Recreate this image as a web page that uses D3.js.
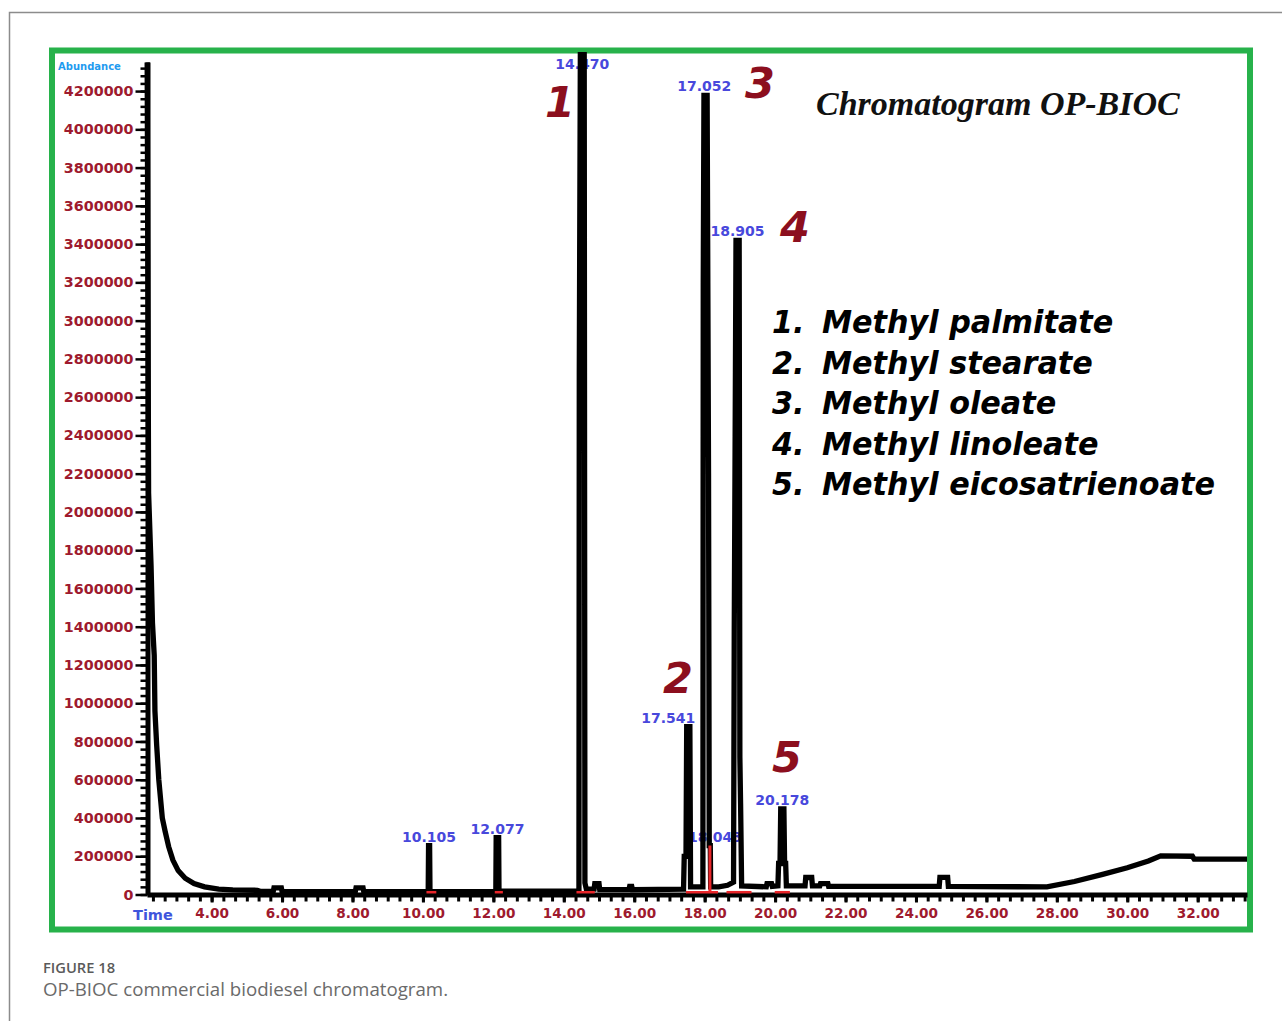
<!DOCTYPE html>
<html>
<head>
<meta charset="utf-8">
<script src="https://cdn.jsdelivr.net/npm/d3@7"></script>
<style>
  html, body { margin: 0; padding: 0; background: #ffffff; }
  svg { display: block; }
</style>
</head>
<body>
<svg id="chart" width="1282" height="1021"></svg>
<script>
// ---------------- DATA ----------------
const traceTime = [
  2.17, 2.21, 2.28, 2.32, 2.37, 2.39, 2.44, 2.50, 2.60, 2.68, 2.78, 2.90, 3.05, 3.25, 3.50, 3.80, 4.20, 4.60, 5.30,
  5.40, 5.75, 5.77, 5.98, 6.00, 8.08, 8.10, 8.30, 8.32,
  10.15, 10.16, 10.19, 10.20,
  12.07, 12.08, 12.15, 12.16,
  14.43, 14.44, 14.47, 14.58, 14.60, 14.64,
  14.86, 14.88, 15.00, 15.02, 15.85, 15.87, 15.93, 15.95,
  17.40, 17.42, 17.47, 17.49, 17.58, 17.60,
  17.95, 17.96, 17.98, 18.07, 18.11, 18.13, 18.16, 18.17,
  18.40, 18.65, 18.82, 18.84, 18.86, 18.89, 18.98, 19.00, 19.02, 19.05,
  19.75, 19.77, 19.90, 19.92,
  20.08, 20.10, 20.14, 20.16, 20.25, 20.27, 20.30, 20.32,
  20.85, 20.87, 21.04, 21.06, 21.27, 21.29, 21.50, 21.52,
  24.66, 24.68, 24.90, 24.92,
  27.72, 28.50, 29.30, 30.00, 30.60, 30.95, 31.85, 31.90, 33.40
];
const traceAbundance = [
  4350000, 2100000, 1720000, 1420000, 1250000, 960000, 780000, 600000, 400000, 330000, 250000, 180000, 125000, 85000, 57000, 40000, 28000, 24000, 22000,
  16000, 16000, 35000, 35000, 16000, 15000, 35000, 35000, 15000,
  15000, 256000, 256000, 15000,
  16000, 297000, 297000, 17000,
  18000, 2730000, 4390000, 4390000, 60000, 28000,
  28000, 57000, 57000, 25000, 25000, 42000, 42000, 25000,
  28000, 199000, 199000, 878000, 878000, 40000,
  40000, 3200000, 4177000, 4177000, 2200000, 256000, 256000, 40000,
  40000, 48000, 65000, 1380000, 2160000, 3420000, 3420000, 716000, 476000, 45000,
  40000, 57000, 57000, 42000,
  45000, 162000, 162000, 448000, 448000, 162000, 162000, 45000,
  45000, 89000, 89000, 45000, 45000, 57000, 57000, 42000,
  42000, 90000, 90000, 42000,
  40000, 68000, 105000, 140000, 175000, 202000, 200000, 185000, 185000
];

// labelled peaks (apex position on the trace, apex abundance, printed label)
const peakLabels     = ["10.105", "12.077", "14.470", "17.052", "17.541", "18.043", "18.905", "20.178"];
const peakApexTime   = [10.175, 12.115, 14.525, 17.99, 17.535, 18.15, 18.935, 20.205];
const peakApexValue  = [256000, 297000, 4390000, 4177000, 878000, 256000, 3420000, 448000];

// integration markers (red)
const integStart = [10.10, 12.04, 14.36, 17.47, 18.62, 19.99];
const integEnd   = [10.38, 12.27, 14.88, 18.38, 19.33, 20.42];
const integDropTime  = [18.15];
const integDropValue = [256000];

const xTickValues = [4, 6, 8, 10, 12, 14, 16, 18, 20, 22, 24, 26, 28, 30, 32];
const xTickLabels = ["4.00", "6.00", "8.00", "10.00", "12.00", "14.00", "16.00", "18.00", "20.00", "22.00", "24.00", "26.00", "28.00", "30.00", "32.00"];
const yTickValues = [0, 200000, 400000, 600000, 800000, 1000000, 1200000, 1400000, 1600000, 1800000, 2000000,
  2200000, 2400000, 2600000, 2800000, 3000000, 3200000, 3400000, 3600000, 3800000, 4000000, 4200000];
const yTickLabels = ["0", "200000", "400000", "600000", "800000", "1000000", "1200000", "1400000", "1600000", "1800000", "2000000",
  "2200000", "2400000", "2600000", "2800000", "3000000", "3200000", "3400000", "3600000", "3800000", "4000000", "4200000"];

const compoundNumbers = ["1.", "2.", "3.", "4.", "5."];
const compoundNames = ["Methyl palmitate", "Methyl stearate", "Methyl oleate", "Methyl linoleate", "Methyl eicosatrienoate"];
const peakNumbers = ["1", "2", "3", "4", "5"];

const chartTitle = "Chromatogram OP-BIOC";
const yAxisTitle = "Abundance";
const xAxisTitle = "Time";
const figureLabel = "FIGURE 18";
const figureCaption = "OP-BIOC commercial biodiesel chromatogram.";

// ---------------- DRAWING ----------------
const svg = d3.select("#chart");
const RED_TXT = "#9e1a2e";
const BLUE_TXT = "#4848dc";
const GREEN = "#27b24b";

// page border
svg.append("path").attr("d", "M9.5,1021 V12.5 H1282")
  .attr("fill", "none").attr("stroke", "#8c8c8c").attr("stroke-width", 1.5);

// green frame
svg.append("rect").attr("x", 52).attr("y", 50.5).attr("width", 1198).attr("height", 879)
  .attr("fill", "#ffffff").attr("stroke", GREEN).attr("stroke-width", 6);

const x = d3.scaleLinear().domain([2.165, 33.40]).range([147, 1247]);
const y = d3.scaleLinear().domain([0, 4352000]).range([894.5, 62]);

// y minor ticks
const yMinor = d3.range(0, 4352000, 40000);
const yMinorAxis = d3.axisLeft(y).tickValues(yMinor).tickSize(7).tickFormat("").tickSizeOuter(0);
const gyMinor = svg.append("g").attr("transform", "translate(147.5,0)").call(yMinorAxis);
gyMinor.select(".domain").remove();
gyMinor.selectAll(".tick line").attr("stroke", "#000").attr("stroke-width", 2.5);

// y major axis
const yAxis = d3.axisLeft(y).tickValues(yTickValues).tickSize(12).tickPadding(2)
  .tickFormat((d, i) => yTickLabels[i]).tickSizeOuter(0);
const gy = svg.append("g").attr("transform", "translate(147.5,0)").call(yAxis);
gy.select(".domain").attr("stroke", "#000").attr("stroke-width", 5);
gy.selectAll(".tick line").attr("stroke", "#000").attr("stroke-width", 2.5);
gy.selectAll(".tick text")
  .attr("fill", RED_TXT).attr("font-family", "DejaVu Sans, Verdana, sans-serif")
  .attr("font-weight", "bold").attr("font-size", 14.3);

// x minor ticks (every 1/3 min)
const xMinor = d3.range(Math.ceil(2.165 * 3), Math.floor(33.40 * 3) + 1).map(k => k / 3);
const xMinorAxis = d3.axisBottom(x).tickValues(xMinor).tickSize(7).tickFormat("").tickSizeOuter(0);
const gxMinor = svg.append("g").attr("transform", "translate(0,894.5)").call(xMinorAxis);
gxMinor.select(".domain").remove();
gxMinor.selectAll(".tick line").attr("stroke", "#000").attr("stroke-width", 3);

// x major axis
const xAxis = d3.axisBottom(x).tickValues(xTickValues).tickSize(8)
  .tickFormat((d, i) => xTickLabels[i]).tickSizeOuter(0);
const gx = svg.append("g").attr("transform", "translate(0,894.5)").call(xAxis);
gx.select(".domain").attr("stroke", "#000").attr("stroke-width", 5);
gx.selectAll(".tick line").attr("stroke", "#000").attr("stroke-width", 3);
gx.selectAll(".tick text")
  .attr("y", 23).attr("dy", null)
  .attr("fill", RED_TXT).attr("font-family", "DejaVu Sans, Verdana, sans-serif")
  .attr("font-weight", "bold").attr("font-size", 13.6);

// axis titles
svg.append("text").attr("x", 58).attr("y", 70).text(yAxisTitle)
  .attr("fill", "#1f9bef").attr("font-family", "DejaVu Sans, Verdana, sans-serif")
  .attr("font-weight", "bold").attr("font-size", 10);
svg.append("text").attr("x", 133).attr("y", 920).text(xAxisTitle)
  .attr("fill", "#3f55dc").attr("font-family", "DejaVu Sans, Verdana, sans-serif")
  .attr("font-weight", "bold").attr("font-size", 14.5);

// peak retention-time labels (under the trace)
const labelDx = { "17.541": -20, "18.043": 5 };
svg.append("g").selectAll("text").data(peakLabels).join("text")
  .attr("x", (d, i) => x(peakApexTime[i]) + (labelDx[d] || 0))
  .attr("y", (d, i) => Math.max(y(peakApexValue[i]) - 4, 69))
  .attr("text-anchor", "middle")
  .text(d => d)
  .attr("fill", BLUE_TXT).attr("font-family", "DejaVu Sans, Verdana, sans-serif")
  .attr("font-weight", "bold").attr("font-size", 14);

// trace
const tracePts = traceTime.map((t, i) => [t, traceAbundance[i]]);
const line = d3.line().x(d => x(d[0])).y(d => y(d[1]));
svg.append("path").datum(tracePts).attr("d", line)
  .attr("fill", "none").attr("stroke", "#000").attr("stroke-width", 5.3)
  .attr("stroke-linejoin", "miter").attr("stroke-miterlimit", 2);

// integration markers
svg.append("g").selectAll("line").data(integStart).join("line")
  .attr("x1", d => x(d)).attr("x2", (d, i) => x(integEnd[i]))
  .attr("y1", y(12000)).attr("y2", y(12000))
  .attr("stroke", "#e8262a").attr("stroke-width", 2.5);
svg.append("g").selectAll("line").data(integDropTime).join("line")
  .attr("x1", d => x(d)).attr("x2", d => x(d))
  .attr("y1", y(12000)).attr("y2", (d, i) => y(integDropValue[i]))
  .attr("stroke", "#e8262a").attr("stroke-width", 3);

// peak number annotations
const numPos = [[560, 117], [678, 693], [760, 98], [795, 242], [787, 772]];
svg.append("g").selectAll("text").data(peakNumbers).join("text")
  .attr("x", (d, i) => numPos[i][0]).attr("y", (d, i) => numPos[i][1])
  .attr("text-anchor", "middle").text(d => d)
  .attr("fill", "#8c0f1e").attr("font-family", "DejaVu Sans, Verdana, sans-serif")
  .attr("font-weight", "bold").attr("font-style", "italic").attr("font-size", 43);

// title
svg.append("text").attr("x", 816).attr("y", 115).text(chartTitle)
  .attr("fill", "#111").attr("font-family", "Liberation Serif, Times New Roman, serif")
  .attr("font-weight", "bold").attr("font-style", "italic").attr("font-size", 34);

// compound legend
const leg = svg.append("g");
compoundNames.forEach((name, i) => {
  const by = 333 + i * 40.6;
  leg.append("text").attr("transform", `translate(772,${by}) scale(0.945,1)`).text(compoundNumbers[i])
    .attr("fill", "#000").attr("font-family", "DejaVu Sans, Verdana, sans-serif")
    .attr("font-weight", "bold").attr("font-style", "italic").attr("font-size", 32);
  leg.append("text").attr("transform", `translate(822,${by}) scale(0.945,1)`).text(name)
    .attr("fill", "#000").attr("font-family", "DejaVu Sans, Verdana, sans-serif")
    .attr("font-weight", "bold").attr("font-style", "italic").attr("font-size", 32);
});

// caption
svg.append("text").attr("x", 43).attr("y", 973).text(figureLabel)
  .attr("fill", "#5a5a5a").attr("font-family", "Open Sans, sans-serif")
  .attr("font-weight", 600).attr("font-size", 14.7);
svg.append("text").attr("x", 43).attr("y", 996).text(figureCaption)
  .attr("fill", "#6a6a6a").attr("font-family", "Open Sans, sans-serif")
  .attr("font-weight", 400).attr("font-size", 18.7);
</script>
</body>
</html>
